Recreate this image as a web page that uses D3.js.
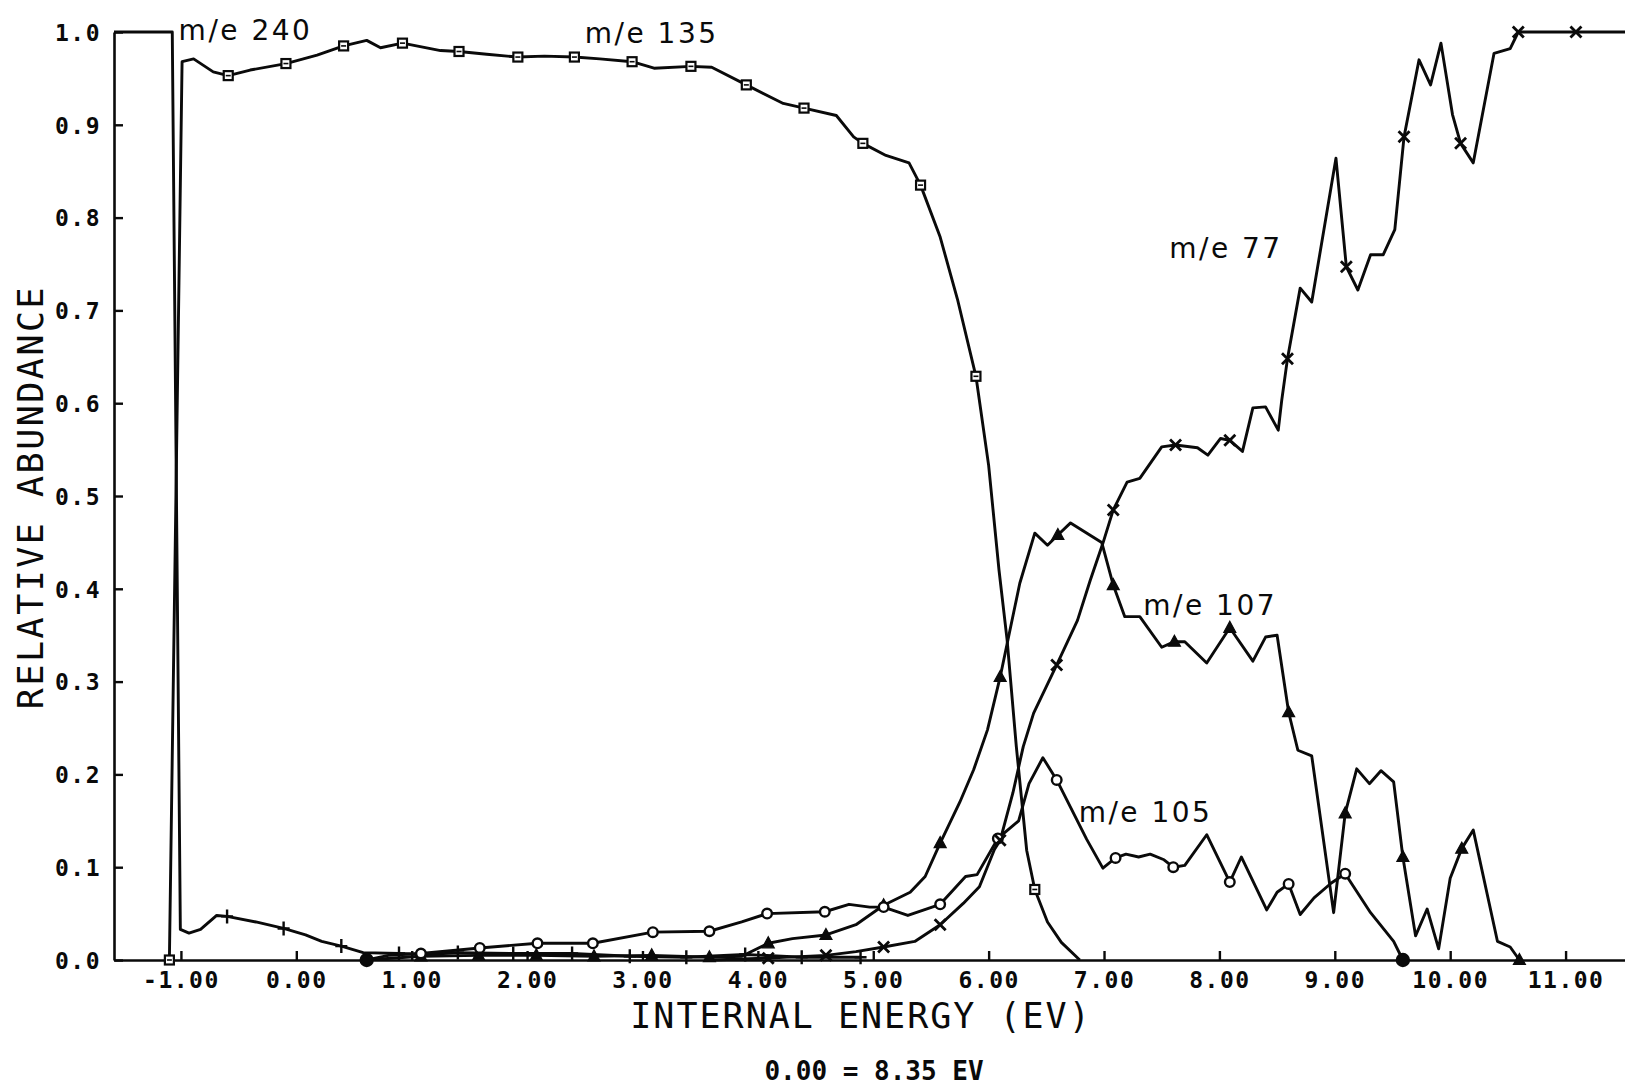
<!DOCTYPE html>
<html>
<head>
<meta charset="utf-8">
<script src="https://cdn.jsdelivr.net/npm/d3@7"></script>
<style>
  html, body { margin: 0; padding: 0; background: #fff; }
  svg { display: block; }
</style>
</head>
<body>
<svg id="chart" width="1625" height="1085"></svg>
<script>
// Relative ion abundance vs internal energy (breakdown curves).
// Each point: [internal energy (eV), relative abundance, marker flag]

const mz240 = [
  [-1.58, 1.000], [-1.075, 1.000], [-1.005, 0.033], [-0.93, 0.029], [-0.83, 0.033],
  [-0.69, 0.048], [-0.60, 0.047, 1], [-0.35, 0.041], [-0.11, 0.034, 1], [0.08, 0.027],
  [0.22, 0.020], [0.39, 0.015, 1], [0.58, 0.008], [0.89, 0.007, 1], [1.15, 0.006],
  [1.40, 0.008, 1], [1.88, 0.007, 1], [2.39, 0.007, 1], [2.89, 0.004, 1], [3.38, 0.003, 1],
  [3.89, 0.006, 1], [4.38, 0.003, 1], [4.89, 0.003, 1]
];

const mz135 = [
  [-1.10, 0.000, 1], [-0.99, 0.968], [-0.89, 0.971], [-0.72, 0.957], [-0.59, 0.953, 1],
  [-0.40, 0.959], [-0.09, 0.966, 1], [0.18, 0.975], [0.41, 0.985, 1], [0.61, 0.991],
  [0.73, 0.983], [0.92, 0.988, 1], [1.25, 0.980], [1.41, 0.979, 1], [1.65, 0.976],
  [1.92, 0.973, 1], [2.15, 0.974], [2.41, 0.973, 1], [2.63, 0.971], [2.91, 0.968, 1],
  [3.10, 0.961], [3.42, 0.963, 1], [3.60, 0.962], [3.90, 0.943, 1], [4.22, 0.923],
  [4.40, 0.918, 1], [4.68, 0.910], [4.83, 0.887], [4.91, 0.880, 1], [5.11, 0.867],
  [5.31, 0.859], [5.41, 0.835, 1], [5.58, 0.779], [5.73, 0.712], [5.89, 0.629, 1],
  [6.00, 0.533], [6.09, 0.420], [6.16, 0.345], [6.24, 0.230], [6.33, 0.118],
  [6.40, 0.076, 1], [6.51, 0.041], [6.63, 0.019], [6.79, 0.000]
];

const mz107 = [
  [0.60, 0.000], [1.08, 0.004, 1], [1.58, 0.005, 1], [2.08, 0.005, 1], [2.58, 0.004, 1],
  [3.08, 0.005, 1], [3.58, 0.003, 1], [3.86, 0.004], [4.09, 0.018, 1], [4.30, 0.023],
  [4.59, 0.027, 1], [4.85, 0.038], [5.09, 0.059, 1], [5.32, 0.073], [5.45, 0.090],
  [5.58, 0.126, 1], [5.75, 0.170], [5.87, 0.205], [5.99, 0.248], [6.10, 0.305, 1],
  [6.27, 0.406], [6.40, 0.460], [6.51, 0.447], [6.60, 0.458, 1], [6.71, 0.471],
  [6.98, 0.450], [7.08, 0.404, 1], [7.18, 0.370], [7.31, 0.370], [7.50, 0.337],
  [7.61, 0.343, 1], [7.70, 0.343], [7.89, 0.320], [8.09, 0.358, 1], [8.29, 0.322],
  [8.40, 0.348], [8.50, 0.350], [8.60, 0.267, 1], [8.68, 0.226], [8.80, 0.220],
  [8.99, 0.051], [9.09, 0.158, 1], [9.19, 0.206], [9.30, 0.190], [9.40, 0.204],
  [9.51, 0.192], [9.59, 0.111, 1], [9.70, 0.026], [9.80, 0.055], [9.90, 0.012],
  [10.00, 0.088], [10.10, 0.120, 1], [10.20, 0.140], [10.41, 0.020], [10.52, 0.014],
  [10.60, 0.000, 1]
];

const mz105 = [
  [0.61, 0.000, 1], [0.80, 0.005], [1.08, 0.007, 1], [1.59, 0.013, 1], [2.09, 0.018, 1],
  [2.57, 0.018, 1], [3.09, 0.030, 1], [3.58, 0.031, 1], [3.86, 0.041], [4.08, 0.050, 1],
  [4.58, 0.052, 1], [4.79, 0.060], [4.97, 0.057], [5.09, 0.057, 1], [5.30, 0.048],
  [5.58, 0.060, 1], [5.80, 0.090], [5.90, 0.092], [6.08, 0.131, 1], [6.26, 0.150],
  [6.35, 0.190], [6.47, 0.218], [6.59, 0.194, 1], [6.85, 0.130], [6.99, 0.099],
  [7.10, 0.110, 1], [7.19, 0.114], [7.30, 0.111], [7.40, 0.114], [7.52, 0.108],
  [7.60, 0.100, 1], [7.70, 0.102], [7.89, 0.135], [8.09, 0.084, 1], [8.19, 0.111],
  [8.41, 0.054], [8.50, 0.073], [8.60, 0.082, 1], [8.70, 0.049], [8.82, 0.067],
  [8.97, 0.083], [9.09, 0.093, 1], [9.31, 0.051], [9.51, 0.020], [9.59, 0.000, 1]
];

const mz77 = [
  [3.60, 0.000], [4.09, 0.002, 1], [4.59, 0.005, 1], [4.85, 0.009], [5.09, 0.014, 1],
  [5.36, 0.020], [5.58, 0.038, 1], [5.78, 0.061], [5.92, 0.079], [6.05, 0.119],
  [6.10, 0.129, 1], [6.21, 0.180], [6.30, 0.230], [6.39, 0.266], [6.59, 0.318, 1],
  [6.77, 0.366], [6.88, 0.409], [6.99, 0.449], [7.08, 0.485, 1], [7.20, 0.515],
  [7.31, 0.519], [7.50, 0.553], [7.62, 0.555, 1], [7.81, 0.552], [7.90, 0.544],
  [8.01, 0.562], [8.09, 0.560, 1], [8.20, 0.548], [8.29, 0.595], [8.40, 0.596],
  [8.51, 0.571], [8.54, 0.603], [8.59, 0.648, 1], [8.70, 0.724], [8.80, 0.709],
  [9.01, 0.864], [9.10, 0.747, 1], [9.20, 0.722], [9.31, 0.760], [9.42, 0.760],
  [9.52, 0.787], [9.60, 0.887, 1], [9.73, 0.970], [9.83, 0.943], [9.92, 0.988],
  [10.02, 0.911], [10.09, 0.880, 1], [10.20, 0.859], [10.38, 0.977], [10.52, 0.982],
  [10.59, 1.000, 1], [11.09, 1.000, 1], [11.52, 1.000]
];

const xTicks = [-1, 0, 1, 2, 3, 4, 5, 6, 7, 8, 9, 10, 11];
const yTicks = [0, 0.1, 0.2, 0.3, 0.4, 0.5, 0.6, 0.7, 0.8, 0.9, 1.0];

const series = [
  { name: "m/e 240", data: mz240, marker: "plus" },
  { name: "m/e 135", data: mz135, marker: "square" },
  { name: "m/e 107", data: mz107, marker: "triangle" },
  { name: "m/e 105", data: mz105, marker: "circle" },
  { name: "m/e 77",  data: mz77,  marker: "times" }
];

// Curve labels, anchored in data units (energy, abundance of the text baseline)
const curveLabels = [
  { text: "m/e 240", at: [-1.02, 0.991] },
  { text: "m/e 135", at: [2.50, 0.988] },
  { text: "m/e 77",  at: [7.565, 0.756] },
  { text: "m/e 107", at: [7.34, 0.372] },
  { text: "m/e 105", at: [6.78, 0.149] }
];

const svg = d3.select("#chart");
const ink = "#0a0a0a";

const x = d3.scaleLinear().domain([-1.58, 11.515]).range([114, 1625]);
const y = d3.scaleLinear().domain([0, 1]).range([960, 32]);

const monoFont = "'DejaVu Sans Mono', 'Liberation Mono', monospace";

// Axes with inward ticks
const yAxis = d3.axisLeft(y).tickValues(yTicks).tickSize(-9).tickSizeOuter(0)
  .tickPadding(13).tickFormat(d => d.toFixed(1));
const xAxis = d3.axisBottom(x).tickValues(xTicks).tickSize(-9).tickSizeOuter(0)
  .tickPadding(11).tickFormat(d => d.toFixed(2));

const gy = svg.append("g").attr("transform", "translate(114,0)").call(yAxis);
const gx = svg.append("g").attr("transform", "translate(0,960)").call(xAxis);

[gx, gy].forEach(g => {
  g.select(".domain").attr("stroke", ink).attr("stroke-width", 2.6);
  g.selectAll(".tick line").attr("stroke", ink).attr("stroke-width", 2.4);
  g.selectAll(".tick text")
    .attr("fill", ink)
    .style("font-family", monoFont)
    .style("font-weight", "bold")
    .style("font-size", "23px")
    .style("letter-spacing", "1.5px");
});
gy.selectAll(".tick text").attr("dy", "0.36em");
gx.selectAll(".tick text").attr("dy", "0.73em");

// Axis titles
svg.append("text")
  .attr("x", 861).attr("y", 1028)
  .attr("text-anchor", "middle")
  .style("font-family", monoFont)
  .style("font-size", "35px")
  .style("letter-spacing", "2px")
  .attr("fill", ink)
  .text("INTERNAL ENERGY (EV)");

svg.append("text")
  .attr("transform", "translate(43,497) rotate(-90)")
  .attr("text-anchor", "middle")
  .style("font-family", monoFont)
  .style("font-size", "35px")
  .style("letter-spacing", "2.5px")
  .attr("fill", ink)
  .text("RELATIVE ABUNDANCE");

svg.append("text")
  .attr("x", 874).attr("y", 1080)
  .attr("text-anchor", "middle")
  .style("font-family", monoFont)
  .style("font-weight", "bold")
  .style("font-size", "26px")
  .attr("fill", ink)
  .text("0.00 = 8.35 EV");

// Curves
const line = d3.line().x(d => x(d[0])).y(d => y(d[1]));
const plot = svg.append("g");

series.forEach(s => {
  plot.append("path")
    .datum(s.data)
    .attr("fill", "none")
    .attr("stroke", ink)
    .attr("stroke-width", 2.9)
    .attr("stroke-linejoin", "round")
    .attr("d", line);
});

// Point markers
function drawMarker(g, type, cx, cy, filled) {
  const m = g.append("g").attr("transform", `translate(${cx},${cy})`);
  if (type === "square") {
    m.append("rect").attr("x", -4.5).attr("y", -4.5).attr("width", 9).attr("height", 9)
      .attr("fill", "#fff").attr("stroke", ink).attr("stroke-width", 2.2);
    m.append("path").attr("d", "M-2.5,0H2.5").attr("stroke", ink).attr("stroke-width", 1.6);
  } else if (type === "plus") {
    m.append("path").attr("d", "M-6,0H6M0,-7V7").attr("stroke", ink).attr("stroke-width", 2.4);
  } else if (type === "times") {
    m.append("path").attr("d", "M-5.5,-5.5L5.5,5.5M-5.5,5.5L5.5,-5.5")
      .attr("stroke", ink).attr("stroke-width", 2.8);
  } else if (type === "circle") {
    m.append("circle").attr("r", filled ? 6 : 4.8)
      .attr("fill", filled ? ink : "#fff").attr("stroke", ink).attr("stroke-width", 2.4);
  } else if (type === "triangle") {
    m.append("path").attr("d", "M0,-6.5L6,4.5H-6Z").attr("fill", ink)
      .attr("stroke", ink).attr("stroke-width", 1.2);
  }
}

const markers = svg.append("g");
series.forEach(s => {
  s.data.filter(d => d[2]).forEach(d => {
    const filled = d[1] === 0 && s.marker === "circle";
    drawMarker(markers, s.marker, x(d[0]), y(d[1]), filled);
  });
});

// Curve labels
svg.append("g").selectAll("text")
  .data(curveLabels)
  .join("text")
  .attr("x", d => x(d.at[0]))
  .attr("y", d => y(d.at[1]))
  .style("font-family", "'DejaVu Sans', 'Noto Sans', sans-serif")
  .style("font-size", "28px")
  .style("letter-spacing", "2.5px")
  .attr("fill", ink)
  .text(d => d.text);
</script>
</body>
</html>
